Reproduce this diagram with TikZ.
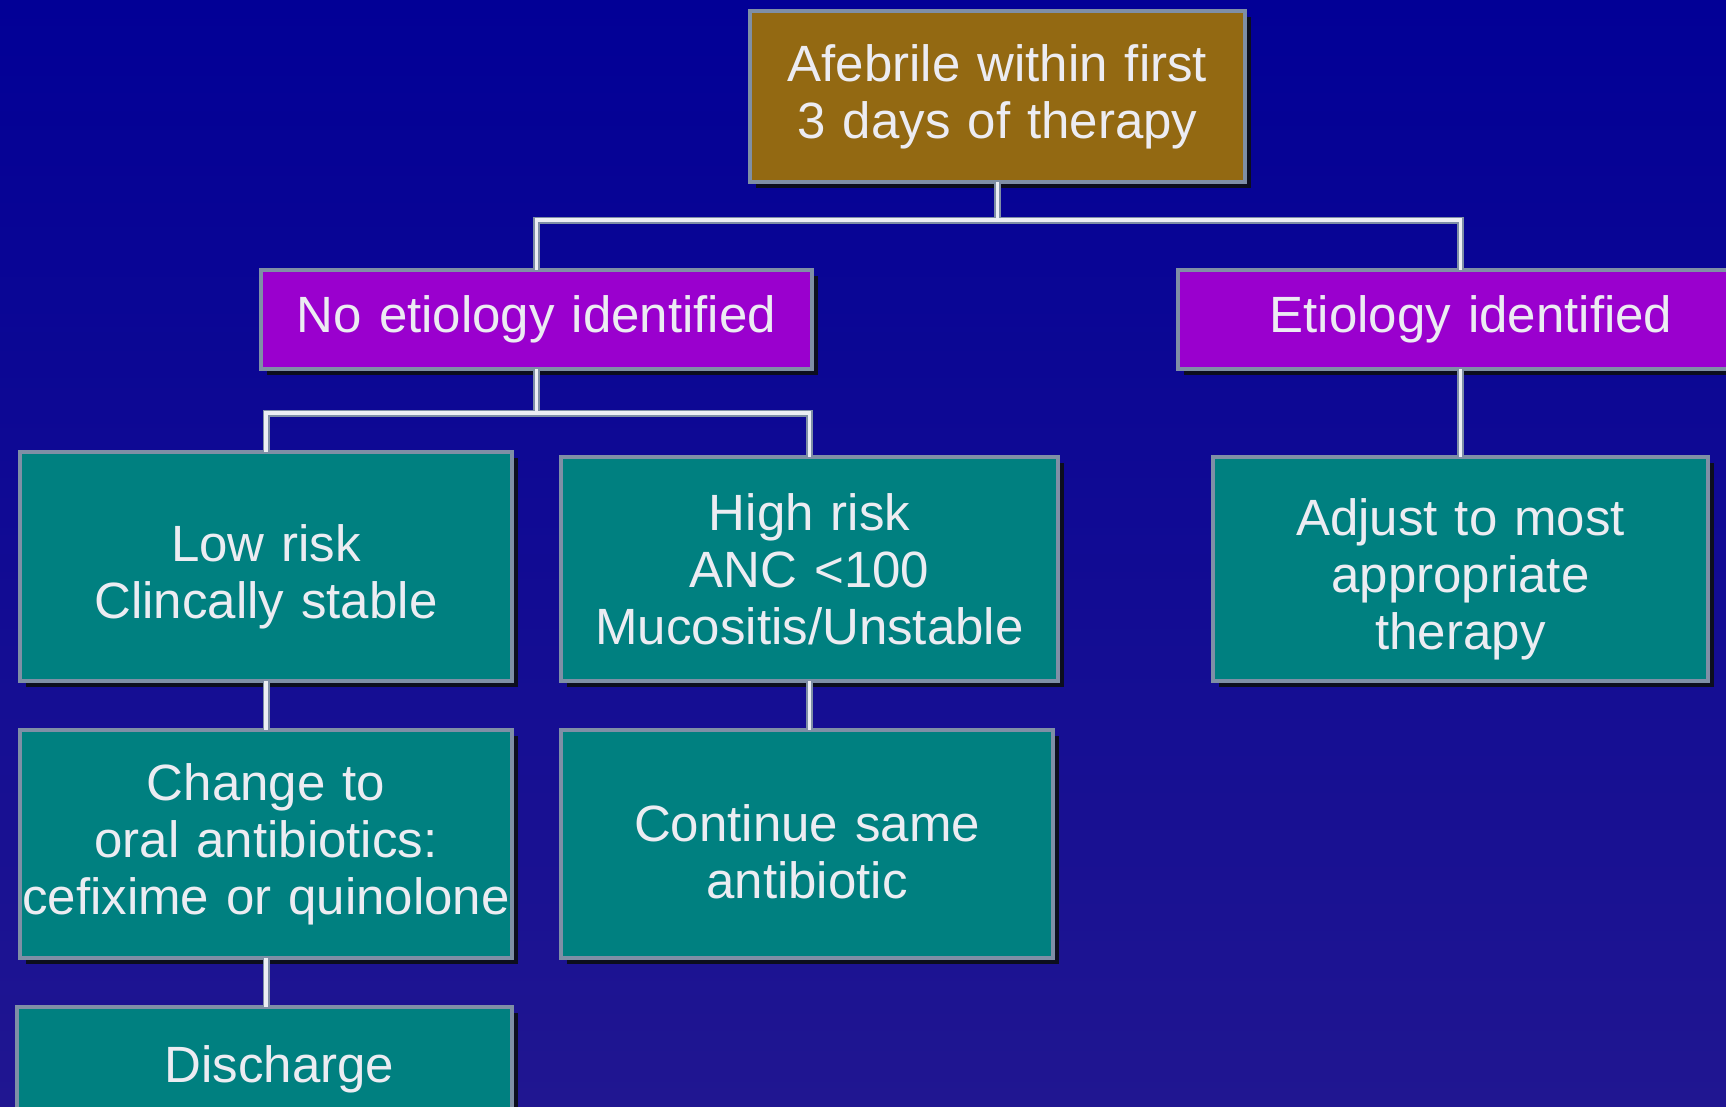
\documentclass[tikz,border=0pt]{standalone}
\usepackage{fontspec}
\setmainfont{Liberation Sans}
\definecolor{bgtop}{RGB}{2,0,150}
\definecolor{bgbot}{RGB}{32,22,145}
\definecolor{brownbox}{RGB}{147,105,18}
\definecolor{purplebox}{RGB}{154,0,206}
\definecolor{tealbox}{RGB}{0,128,128}
\definecolor{edgegrey}{RGB}{127,143,166}
\definecolor{shadowc}{RGB}{12,14,30}
\definecolor{textc}{RGB}{236,236,242}
\definecolor{linec}{RGB}{236,238,244}
\tikzset{
  x=1pt, y=-1pt,
  card/.style={draw=edgegrey, line width=4pt, inner sep=0pt, outer sep=0pt,
    align=center, text=textc,
    font=\fontsize{51}{57}\selectfont,
    drop shadow={shadow xshift=6pt, shadow yshift=-6pt, fill=shadowc, opacity=1}},
  brownc/.style={card, fill=brownbox},
  purplec/.style={card, fill=purplebox},
  tealc/.style={card, fill=tealbox},
  conn/.style={draw=edgegrey, line width=7pt},
  connw/.style={draw=linec, line width=3.5pt},
}
\usetikzlibrary{shadows}
\newcommand{\downstrut}[1]{\rule{0pt}{#1}}
\begin{document}
\begin{tikzpicture}
\useasboundingbox (0,0) rectangle (1726,1106);
\shade[top color=bgtop, bottom color=bgbot] (0,0) rectangle (1726,1106);

% boxes
\node[brownc, minimum width=495pt, minimum height=171pt, text width=490pt] (top) at (997.5,96.5)
  {Afebrile within first\\3 days of therapy};
\node[purplec, minimum width=551pt, minimum height=99pt, text width=545pt] (noet) at (536.5,319.5)
  {No etiology identified};
\node[purplec, minimum width=586pt, minimum height=99pt, text width=580pt] (et) at (1471,319.5)
  {Etiology identified};
\node[tealc, minimum width=492pt, minimum height=229pt, text width=490pt] (low) at (266,566.5)
  {\downstrut{58pt}Low risk\\Clincally stable};
\node[tealc, minimum width=497pt, minimum height=224pt, text width=495pt] (high) at (809.5,569)
  {High risk\\ANC <100\\Mucositis/Unstable};
\node[tealc, minimum width=495pt, minimum height=224pt, text width=493pt] (adj) at (1460.5,569)
  {\downstrut{58pt}Adjust to most\\appropriate\\therapy};
\node[tealc, minimum width=492pt, minimum height=228pt, text width=490pt] (chg) at (266,844)
  {Change to\\oral antibiotics:\\cefixime or quinolone};
\node[tealc, minimum width=492pt, minimum height=228pt, text width=490pt] (cont) at (807,844)
  {\downstrut{52pt}Continue same\\antibiotic};
\node[tealc, minimum width=495pt, minimum height=104pt, text width=493pt] (dis) at (264.5,1059)
  {\downstrut{58pt}\hspace*{30pt}Discharge};

% connectors
\coordinate (j1) at (997.5,220);
\coordinate (j2) at (536.5,413);
\foreach \s in {conn,connw}{
  \draw[\s] (top.south) -- (j1);
  \draw[\s] (j1) -| (noet.north);
  \draw[\s] (j1) -| (et.north -| adj.north);
  \draw[\s] (noet.south) -- (j2);
  \draw[\s] (j2) -| (low.north);
  \draw[\s] (j2) -| (high.north);
  \draw[\s] (et.south -| adj.north) -- (adj.north);
  \draw[\s] (low.south) -- (chg.north -| low.south);
  \draw[\s] (high.south) -- (cont.north -| high.south);
  \draw[\s] (chg.south -| low.south) -- (dis.north -| low.south);
}
\end{tikzpicture}
\end{document}
